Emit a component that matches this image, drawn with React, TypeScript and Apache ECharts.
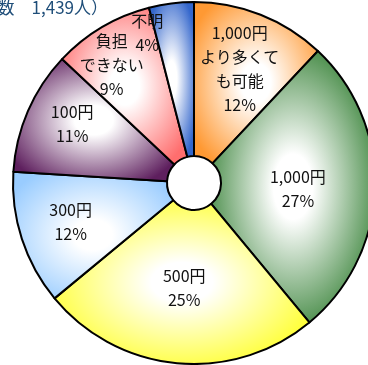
import React, { useEffect, useRef } from "react";
import * as echarts from "echarts";

const categories = [
  "1,000円\nより多くて\nも可能",
  "1,000円",
  "500円",
  "300円",
  "100円",
  "負担\nできない",
  "不明",
];
const percents = [12, 27, 25, 12, 11, 9, 4];
const titleText = "（回答者数　1,439人）";

// styling / layout (not data)
const sliceColors = ["#FF9933", "#2B7A2B", "#FFFF22", "#99CCFF", "#5E1F5E", "#FF6E6E", "#3366CC"];
const labelRadius = [124, 104, 104, 129, 136, 145, 158];
const labelAngleShift = [0, 1, 0, 1, 3, -4, -10];
const CX = 194;
const CY = 183;
const R_OUT = 181;
const R_IN = 27;
const FONT = '"Noto Sans CJK JP", "Noto Sans", sans-serif';

function gradient(color: string) {
  return new echarts.graphic.RadialGradient(0.5, 0.5, 0.6, [
    { offset: 0, color: "#ffffff" },
    { offset: 0.2, color: "#ffffff" },
    { offset: 1, color },
  ]);
}

export default function App() {
  const ref = useRef<HTMLDivElement>(null);
  useEffect(() => {
    if (!ref.current) return;
    const chart = echarts.init(ref.current, null, { renderer: "svg" });
    const total = percents.reduce((a, b) => a + b, 0);
    const mids: number[] = [];
    let cum = 0;
    percents.forEach((v) => {
      mids.push(((cum + v / 2) / total) * 360);
      cum += v;
    });
    chart.setOption({
      animation: false,
      graphic: [
        {
          type: "text",
          x: 108,
          y: 6,
          style: {
            text: titleText,
            align: "right",
            verticalAlign: "middle",
            fill: "#1F4E79",
            font: `17px ${FONT}`,
          },
        },
      ],
      series: [
        {
          type: "pie",
          center: [CX, CY],
          radius: [R_IN, R_OUT],
          startAngle: 90,
          clockwise: true,
          silent: true,
          avoidLabelOverlap: false,
          emphasis: { disabled: true },
          itemStyle: { borderColor: "#000", borderWidth: 2 },
          label: {
            show: true,
            position: "inside",
            formatter: "{b}\n{c}%",
            color: "#111",
            fontSize: 16,
            lineHeight: 24,
            fontFamily: FONT,
            align: "center",
          },
          labelLine: { show: false },
          labelLayout: (params: any) => {
            const i = params.dataIndex;
            const a = ((mids[i] + labelAngleShift[i]) * Math.PI) / 180;
            return {
              x: CX + labelRadius[i] * Math.sin(a),
              y: CY - labelRadius[i] * Math.cos(a),
            };
          },
          data: categories.map((name, i) => ({
            name,
            value: percents[i],
            itemStyle: { color: gradient(sliceColors[i]) },
          })),
        },
      ],
    });
    return () => chart.dispose();
  }, []);
  return (
    <div
      ref={ref}
      style={{ position: "fixed", left: 0, top: 0, width: 368, height: 365 }}
    />
  );
}
